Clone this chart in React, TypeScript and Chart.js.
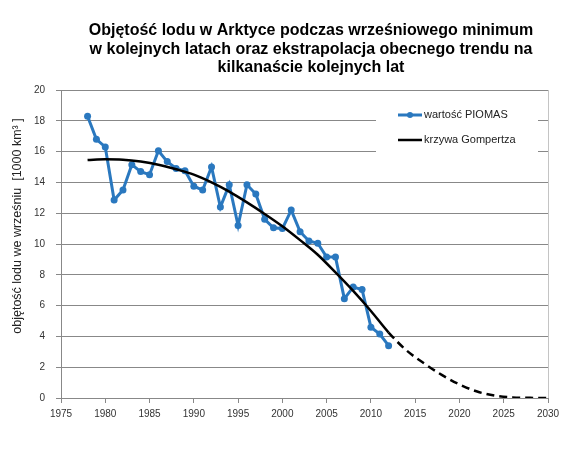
import React, { useEffect, useRef } from "react";
import { Chart, registerables } from "chart.js";

Chart.register(...registerables);

// ---- data ----
const titleLines = [
  "Objętość lodu w Arktyce podczas wrześniowego minimum",
  "w kolejnych latach oraz ekstrapolacja obecnego trendu na",
  "kilkanaście kolejnych lat",
];
const yAxisTitle = "objętość lodu we wrześniu  [1000 km³ ]";
const seriesLabels = ["wartość PIOMAS", "krzywa Gompertza"];

const piomasYears = [
  1978, 1979, 1980, 1981, 1982, 1983, 1984, 1985, 1986, 1987, 1988, 1989,
  1990, 1991, 1992, 1993, 1994, 1995, 1996, 1997, 1998, 1999, 2000, 2001,
  2002, 2003, 2004, 2005, 2006, 2007, 2008, 2009, 2010, 2011, 2012,
];
const piomasValues = [
  18.3, 16.8, 16.3, 12.85, 13.5, 15.15, 14.7, 14.5, 16.05, 15.35, 14.9, 14.75,
  13.75, 13.5, 15.0, 12.4, 13.85, 11.2, 13.85, 13.25, 11.6, 11.05, 11.0, 12.2,
  10.8, 10.2, 10.05, 9.15, 9.15, 6.45, 7.2, 7.05, 4.6, 4.15, 3.4,
];

const gompertzYears = [
  1978, 1980, 1982, 1984, 1986, 1988, 1990, 1992, 1994, 1996, 1998, 2000,
  2002, 2004, 2006, 2008, 2010, 2012, 2014, 2016, 2018, 2020, 2022, 2024,
  2026, 2028, 2030,
];
const gompertzValues = [
  15.45, 15.5, 15.47, 15.35, 15.15, 14.85, 14.5, 14.0, 13.4, 12.7, 11.95, 11.15,
  10.25, 9.3, 8.15, 6.95, 5.65, 4.25, 3.1, 2.25, 1.5, 0.88, 0.42, 0.15,
  0.04, 0.01, 0.0,
];
const lastObservedYear = 2012;

const xMin = 1975;
const xMax = 2030;
const xStep = 5;
const yMin = 0;
const yMax = 20;
const yStep = 2;

const BLUE = "#2a78bf";
const FONT = "'Liberation Sans', Arial, sans-serif";

const decorPlugin = {
  id: "decor",
  afterDraw(chart: any) {
    const ctx = chart.ctx;
    const area = chart.chartArea;
    ctx.save();
    // right border of plot area
    ctx.strokeStyle = "#c4c4c4";
    ctx.lineWidth = 1;
    ctx.beginPath();
    ctx.moveTo(Math.round(area.right) + 0.5, area.top);
    ctx.lineTo(Math.round(area.right) + 0.5, area.bottom);
    ctx.stroke();

    // title
    ctx.fillStyle = "#000";
    ctx.font = `bold 16px ${FONT}`;
    ctx.textAlign = "center";
    ctx.textBaseline = "alphabetic";
    titleLines.forEach((line, i) => {
      ctx.fillText(line, 311, 35 + i * 18.5);
    });

    // y-axis title
    ctx.save();
    ctx.translate(18, 226);
    ctx.rotate(-Math.PI / 2);
    ctx.font = `12.5px ${FONT}`;
    ctx.fillStyle = "#222";
    ctx.textAlign = "center";
    ctx.textBaseline = "middle";
    ctx.fillText(yAxisTitle, 0, 0);
    ctx.restore();

    // legend
    ctx.fillStyle = "#fff";
    ctx.fillRect(376, 91, 162, 84);
    const items = chart.data.datasets;
    const rows = [115, 140];
    items.forEach((ds: any, i: number) => {
      const y = rows[i];
      ctx.strokeStyle = ds.borderColor;
      ctx.lineWidth = ds.borderWidth;
      ctx.setLineDash([]);
      ctx.beginPath();
      ctx.moveTo(398, y);
      ctx.lineTo(422, y);
      ctx.stroke();
      if (ds.pointRadius > 0) {
        ctx.fillStyle = ds.borderColor;
        ctx.beginPath();
        ctx.arc(410, y, 3, 0, Math.PI * 2);
        ctx.fill();
      }
      ctx.fillStyle = "#222";
      ctx.font = `11px ${FONT}`;
      ctx.textAlign = "left";
      ctx.textBaseline = "middle";
      ctx.fillText(ds.label, 424, y);
    });
    ctx.restore();
  },
};

export default function App() {
  const ref = useRef<HTMLCanvasElement>(null);
  useEffect(() => {
    document.body.style.margin = "0";
    const canvas = ref.current;
    if (!canvas) return;
    const chart = new Chart(canvas, {
      type: "line",
      data: {
        datasets: [
          {
            label: seriesLabels[0],
            data: piomasYears.map((x, i) => ({ x, y: piomasValues[i] })),
            borderColor: BLUE,
            backgroundColor: BLUE,
            borderWidth: 3,
            pointRadius: 3.5,
            pointBorderWidth: 0,
            pointBackgroundColor: BLUE,
            tension: 0,
            order: 2,
          },
          {
            label: seriesLabels[1],
            data: gompertzYears.map((x, i) => ({ x, y: gompertzValues[i] })),
            borderColor: "#000",
            backgroundColor: "#000",
            borderWidth: 2.5,
            pointRadius: 0,
            cubicInterpolationMode: "monotone",
            segment: {
              borderDash: (c: any) =>
                c.p0.parsed.x >= lastObservedYear ? [8, 5] : undefined,
            },
            order: 1,
          },
        ],
      },
      options: {
        responsive: false,
        animation: false,
        layout: { padding: { left: 0, top: 90, right: 22, bottom: 0 } },
        plugins: {
          legend: { display: false },
          title: { display: false },
          tooltip: { enabled: false },
        },
        scales: {
          x: {
            type: "linear",
            min: xMin,
            max: xMax,
            afterFit: (s: any) => {
              s.height = 63;
            },
            ticks: {
              stepSize: xStep,
              padding: 5,
              color: "#333",
              font: { family: FONT, size: 10 },
              callback: (v: any) => String(v),
              maxRotation: 0,
            },
            grid: {
              display: true,
              drawOnChartArea: false,
              drawTicks: true,
              tickLength: 5,
              color: "#888",
            },
            border: { display: true, color: "#888", width: 1 },
          },
          y: {
            min: yMin,
            max: yMax,
            afterFit: (s: any) => {
              s.width = 61;
            },
            ticks: {
              stepSize: yStep,
              padding: 11,
              color: "#333",
              font: { family: FONT, size: 10 },
              callback: (v: any) => String(v),
            },
            grid: {
              color: "#888",
              lineWidth: 1,
              drawTicks: true,
              tickLength: 5,
            },
            border: { display: true, color: "#888", width: 1 },
          },
        },
      },
      plugins: [decorPlugin],
    });
    return () => chart.destroy();
  }, []);
  return (
    <canvas
      ref={ref}
      width={570}
      height={461}
      style={{ display: "block", width: 570, height: 461 }}
    />
  );
}
